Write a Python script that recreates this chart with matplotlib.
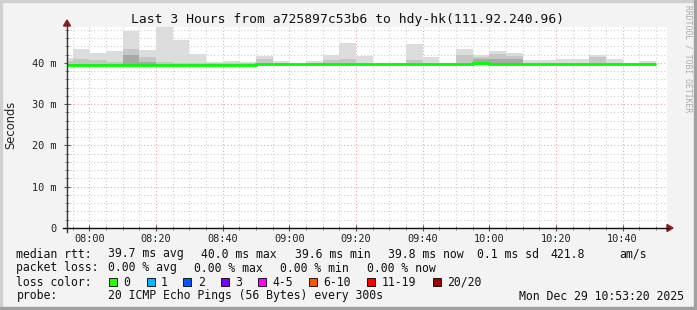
import numpy as np
import matplotlib
matplotlib.use("Agg")
import matplotlib.pyplot as plt
from matplotlib.patches import Rectangle

# ---- data (5 minute buckets, first bucket ends 07:55, last ends 10:50) ----
bucket_start_min = 7 * 60 + 50
bucket_len_min = 5
view_start_min = 7 * 60 + 53 + 20 / 60
view_len_min = 180

median_ms = [39.6] * 12 + [39.8] * 13 + [40.0] + [39.8] * 10
smoke_min_ms = [39.4] * 36
smoke_max_ms = [41.1, 43.4, 42.3, 42.9, 47.8, 43.1, 48.6, 45.6, 42.2, 40.3,
                40.5, 40.2, 41.7, 40.5, 39.9, 40.5, 41.8, 44.9, 41.7, 40.0,
                40.0, 44.6, 41.5, 40.0, 43.4, 42.0, 43.0, 42.3, 40.6, 40.6,
                40.9, 40.9, 42.0, 40.9, 40.0, 40.5]
smoke_mid_ms = [40.4, 40.9, 40.7, 40.3, 43.4, 41.4, 40.2, 40.0, 40.0, 40.0,
                40.0, 40.0, 40.9, 40.0, 39.8, 40.0, 40.7, 41.0, 40.0, 40.0,
                40.0, 40.6, 40.0, 40.0, 42.0, 41.5, 42.2, 41.6, 40.0, 40.0,
                40.0, 40.0, 41.4, 40.0, 40.0, 40.0]
smoke_dark_ms = [39.8, 39.8, 39.8, 39.8, 41.9, 40.3, 39.8, 39.8, 39.8, 39.8,
                 39.8, 39.8, 39.8, 39.8, 39.8, 39.8, 39.8, 39.8, 39.8, 39.8,
                 39.8, 39.8, 39.8, 39.8, 39.8, 41.0, 41.0, 41.0, 39.8, 39.8,
                 39.8, 39.8, 39.8, 39.8, 39.8, 39.8]

y_ticks_ms = [0, 10, 20, 30, 40]
y_tick_labels = ["0", "10 m", "20 m", "30 m", "40 m"]
x_tick_labels = ["08:00", "08:20", "08:40", "09:00", "09:20", "09:40",
                 "10:00", "10:20", "10:40"]

loss_labels = ["0", "1", "2", "3", "4-5", "6-10", "11-19", "20/20"]
loss_colors = ["#26ff00", "#00b8ff", "#0059ff", "#7e00ff", "#ff00ff",
               "#ff5500", "#ff0000", "#a10000"]

title = "Last 3 Hours from a725897c53b6 to hdy-hk(111.92.240.96)"

W, H = 697, 310
BG = "#f3f3f3"
MONO = "DejaVu Sans Mono"

fig = plt.figure(figsize=(W / 100, H / 100), dpi=100, facecolor=BG)

def fx(px):
    return px / W

def fy(py):
    return 1 - py / H

# plot area: x 67..667, y 27..228
ax = fig.add_axes([fx(67), fy(228), fx(600), (228 - 27) / H])
ax.set_facecolor("white")

n = len(median_ms)
edges = bucket_start_min + bucket_len_min * np.arange(n + 1)

ax.stairs(smoke_max_ms, edges, baseline=smoke_min_ms, fill=True,
          color="#dcdcdc", zorder=2)
ax.stairs(smoke_mid_ms, edges, baseline=smoke_min_ms, fill=True,
          color="#c6c6c6", zorder=3)
ax.stairs(smoke_dark_ms, edges, baseline=smoke_min_ms, fill=True,
          color="#a8a8a8", zorder=4)
ax.stairs(median_ms, edges, baseline=None, color="#00ff00", linewidth=2, zorder=5)

ax.set_xlim(view_start_min, view_start_min + view_len_min)
ax.set_ylim(0, 48.7)

# grid
for t in np.arange(475, 655, 5):
    major = t % 20 == 0
    ax.axvline(t, color="#f0a8a8" if major else "#d0d0d0",
               linestyle=(0, (1, 2)), linewidth=0.8, zorder=1)
for v in np.arange(2, 49, 2):
    major = v % 10 == 0
    ax.axhline(v, color="#f0a8a8" if major else "#d0d0d0",
               linestyle=(0, (1, 2)), linewidth=0.8, zorder=1)

x_ticks = [480 + 20 * i for i in range(len(x_tick_labels))]
ax.set_xticks(x_ticks)
ax.set_xticklabels(x_tick_labels, fontfamily=MONO, fontsize=7.4)
ax.set_yticks(y_ticks_ms)
ax.set_yticklabels(y_tick_labels, fontfamily=MONO, fontsize=7.4)
ax.set_yticks(np.arange(2, 49, 2), minor=True)
ax.set_xticks(np.arange(475, 655, 5), minor=True)
ax.tick_params(axis="both", which="major", direction="inout", length=5,
               width=0.8, color="#555555", labelcolor="#222222")
ax.tick_params(axis="x", which="major", pad=2)
ax.tick_params(axis="y", which="major", pad=5)
ax.tick_params(axis="both", which="minor", direction="inout", length=3,
               width=0.6, color="#777777")

for s in ["top", "right", "left", "bottom"]:
    ax.spines[s].set_visible(False)

# axis lines with arrows (figure coordinates)
fig.add_artist(plt.Line2D([fx(67), fx(67)], [fy(232), fy(24)], color="#333333",
                          lw=1, transform=fig.transFigure))
fig.add_artist(plt.Line2D([fx(63), fx(668)], [fy(228), fy(228)], color="#111111",
                          lw=1, transform=fig.transFigure))
fig.add_artist(plt.Polygon([[fx(63.5), fy(26)], [fx(70.5), fy(26)], [fx(67), fy(20)]],
                           closed=True, color="#8b1a1a", transform=fig.transFigure))
fig.add_artist(plt.Polygon([[fx(667), fy(224.5)], [fx(667), fy(231.5)], [fx(673), fy(228)]],
                           closed=True, color="#8b1a1a", transform=fig.transFigure))

fig.text(fx(11), fy(125), "Seconds", fontsize=8.3, color="#222222",
         rotation=90, ha="center", va="center")

fig.text(fx(348), fy(19), title, fontfamily=MONO, fontsize=9.4,
         ha="center", va="center", color="#111111")
fig.text(fx(688), fy(5), "RRDTOOL / TOBI OETIKER", fontfamily=MONO, fontsize=5.8,
         rotation=270, ha="center", va="top", color="#aaaaaa")

# legend rows
LF = 8.3
def legend_text(x, y, s):
    fig.text(fx(x), fy(y), s, fontfamily=MONO, fontsize=LF, ha="left",
             va="center", color="#111111")

row1 = [(16.5, "median rtt:"), (108, "39.7 ms avg"), (201, "40.0 ms max"),
        (295, "39.6 ms min"), (388, "39.8 ms now"), (477, "0.1 ms sd"),
        (550, "421.8"), (619, "am/s")]
row2 = [(16.5, "packet loss:"), (108, "0.00 % avg"), (194.5, "0.00 % max"),
        (280.5, "0.00 % min"), (367, "0.00 % now")]
for x, s in row1:
    legend_text(x, 254, s)
for x, s in row2:
    legend_text(x, 268, s)

legend_text(16.5, 282, "loss color:")
box_x = [109, 146.6, 183.2, 220.7, 258.3, 309.2, 367.3, 433]
for bx, lab, col in zip(box_x, loss_labels, loss_colors):
    fig.add_artist(Rectangle((fx(bx), fy(286.3)), 8 / W, 8 / H, facecolor=col,
                             edgecolor="#000000", linewidth=0.6,
                             transform=fig.transFigure))
    legend_text(bx + 14.5, 282, lab)

legend_text(16.5, 296, "probe:")
legend_text(108, 296, "20 ICMP Echo Pings (56 Bytes) every 300s")
fig.text(fx(684), fy(296), "Mon Dec 29 10:53:20 2025", fontfamily=MONO,
         fontsize=LF, ha="right", va="center", color="#111111")

# 3d-ish border
fig.add_artist(Rectangle((0, fy(2)), 1, 2 / H, color="#d0d0d0", transform=fig.transFigure))
fig.add_artist(Rectangle((0, 0), 2 / W, 1, color="#d0d0d0", transform=fig.transFigure))
fig.add_artist(Rectangle((fx(694), 0), 3 / W, 1, color="#a0a0a0", transform=fig.transFigure))
fig.add_artist(Rectangle((0, 0), 1, 3 / H, color="#a0a0a0", transform=fig.transFigure))

fig.savefig("out.png", dpi=100, facecolor=BG)
